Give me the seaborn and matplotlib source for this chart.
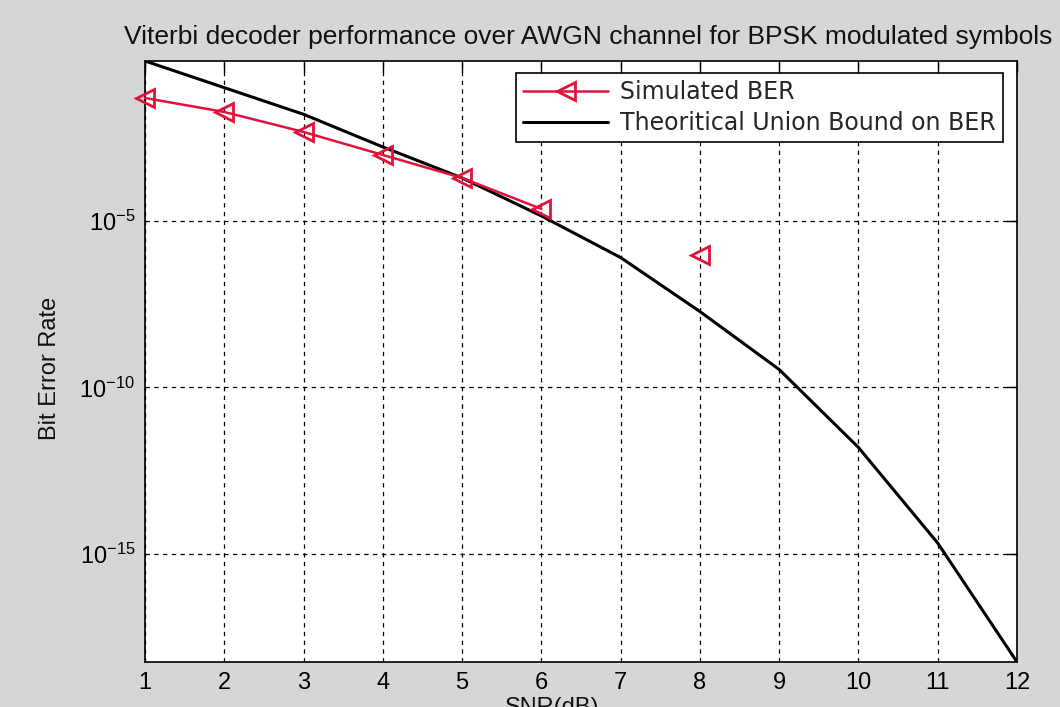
import numpy as np
import pandas as pd
import matplotlib
matplotlib.use("Agg")
import matplotlib.pyplot as plt
from matplotlib.lines import Line2D
import seaborn as sns

# ---- data ----
snr_db = [1, 2, 3, 4, 5, 6, 7, 8, 9, 10, 11, 12]
theory_log10 = [-0.20, -1.00, -1.80, -2.78, -3.71, -4.85, -6.10, -7.72, -9.46, -11.80, -14.67, -18.24]
sim_log10 = [-1.31, -1.73, -2.33, -3.02, -3.71, -4.64, np.nan, -6.02, np.nan, np.nan, np.nan, np.nan]
ytick_vals = [1e-15, 1e-10, 1e-5]
xtick_vals = snr_db

theory_ber = [10 ** v for v in theory_log10]
sim_ber = [10 ** v if not np.isnan(v) else np.nan for v in sim_log10]

sns.set_style("white")
plt.rcParams['font.family'] = ['Liberation Sans', 'DejaVu Sans']
plt.rcParams['mathtext.fontset'] = 'custom'
plt.rcParams['mathtext.rm'] = 'Liberation Sans'

bg = '#d6d6d6'
red = '#e2123c'

fig = plt.figure(figsize=(10.6, 7.07), dpi=100, facecolor=bg)
ax = fig.add_axes([145 / 1060, 1 - 662 / 707, (1017 - 145) / 1060, (662 - 61) / 707])
ax.set_facecolor('white')

df_th = pd.DataFrame({'snr': snr_db, 'ber': theory_ber})
df_sim = pd.DataFrame({'snr': snr_db, 'ber': sim_ber})
df_sim['seg'] = df_sim['ber'].isna().cumsum()
df_sim = df_sim.dropna()

sns.lineplot(data=df_th, x='snr', y='ber', color='black', lw=2.2, ax=ax,
             estimator=None, sort=False, zorder=3)
sns.lineplot(data=df_sim, x='snr', y='ber', units='seg', estimator=None, sort=False,
             color=red, lw=1.8, marker='<', markersize=13, markerfacecolor='none',
             markeredgecolor=red, markeredgewidth=2.0, ax=ax, zorder=4)
for ln in ax.get_lines()[1:]:
    ln.set_clip_on(False)

ax.set_yscale('log')
ax.set_xlim(1, 12)
ax.set_ylim(theory_ber[-1], theory_ber[0])
ax.set_xticks(xtick_vals)
ax.set_xticklabels([str(v) for v in xtick_vals])
ax.set_yticks(ytick_vals)
ax.yaxis.set_minor_locator(matplotlib.ticker.NullLocator())
ax.set_xlabel('')
ax.set_ylabel('')

ax.grid(True, which='major', color='black', linestyle=(0, (3.5, 3.5)), lw=0.9)
ax.tick_params(axis='both', which='major', direction='in', length=8, width=1,
               top=True, right=True, labelsize=17, colors='black', pad=7)
for s in ax.spines.values():
    s.set_color('black')
    s.set_linewidth(1.2)

fig.text(588 / 1060, 1 - 37 / 707,
         'Viterbi decoder performance over AWGN channel for BPSK modulated symbols',
         ha='center', va='center', fontsize=19, color='#111111')
fig.text(50 / 1060, 1 - 368 / 707, 'Bit Error Rate', rotation=90,
         ha='center', va='center', fontsize=17, color='#111111')
fig.text(552 / 1060, 1 - 697 / 707, 'SNR(dB)', ha='center', va='top',
         fontsize=17, color='#111111')

handles = [
    Line2D([], [], color=red, lw=1.8, marker='<', markersize=13,
           markerfacecolor='none', markeredgecolor=red, markeredgewidth=2.0),
    Line2D([], [], color='black', lw=2.2),
]
leg = ax.legend(handles, ['Simulated BER', 'Theoritical Union Bound on BER'],
                loc='upper right', bbox_to_anchor=(1003 / 1060, 1 - 73 / 707),
                bbox_transform=fig.transFigure, borderaxespad=0,
                prop={'family': 'DejaVu Sans', 'size': 17},
                handlelength=3.6, handletextpad=0.5, fancybox=False,
                framealpha=1, edgecolor='black', borderpad=0.3, labelspacing=0.3)
leg.get_frame().set_linewidth(1.2)
leg.set_zorder(10)

fig.savefig('out.png', dpi=100, facecolor=bg)
